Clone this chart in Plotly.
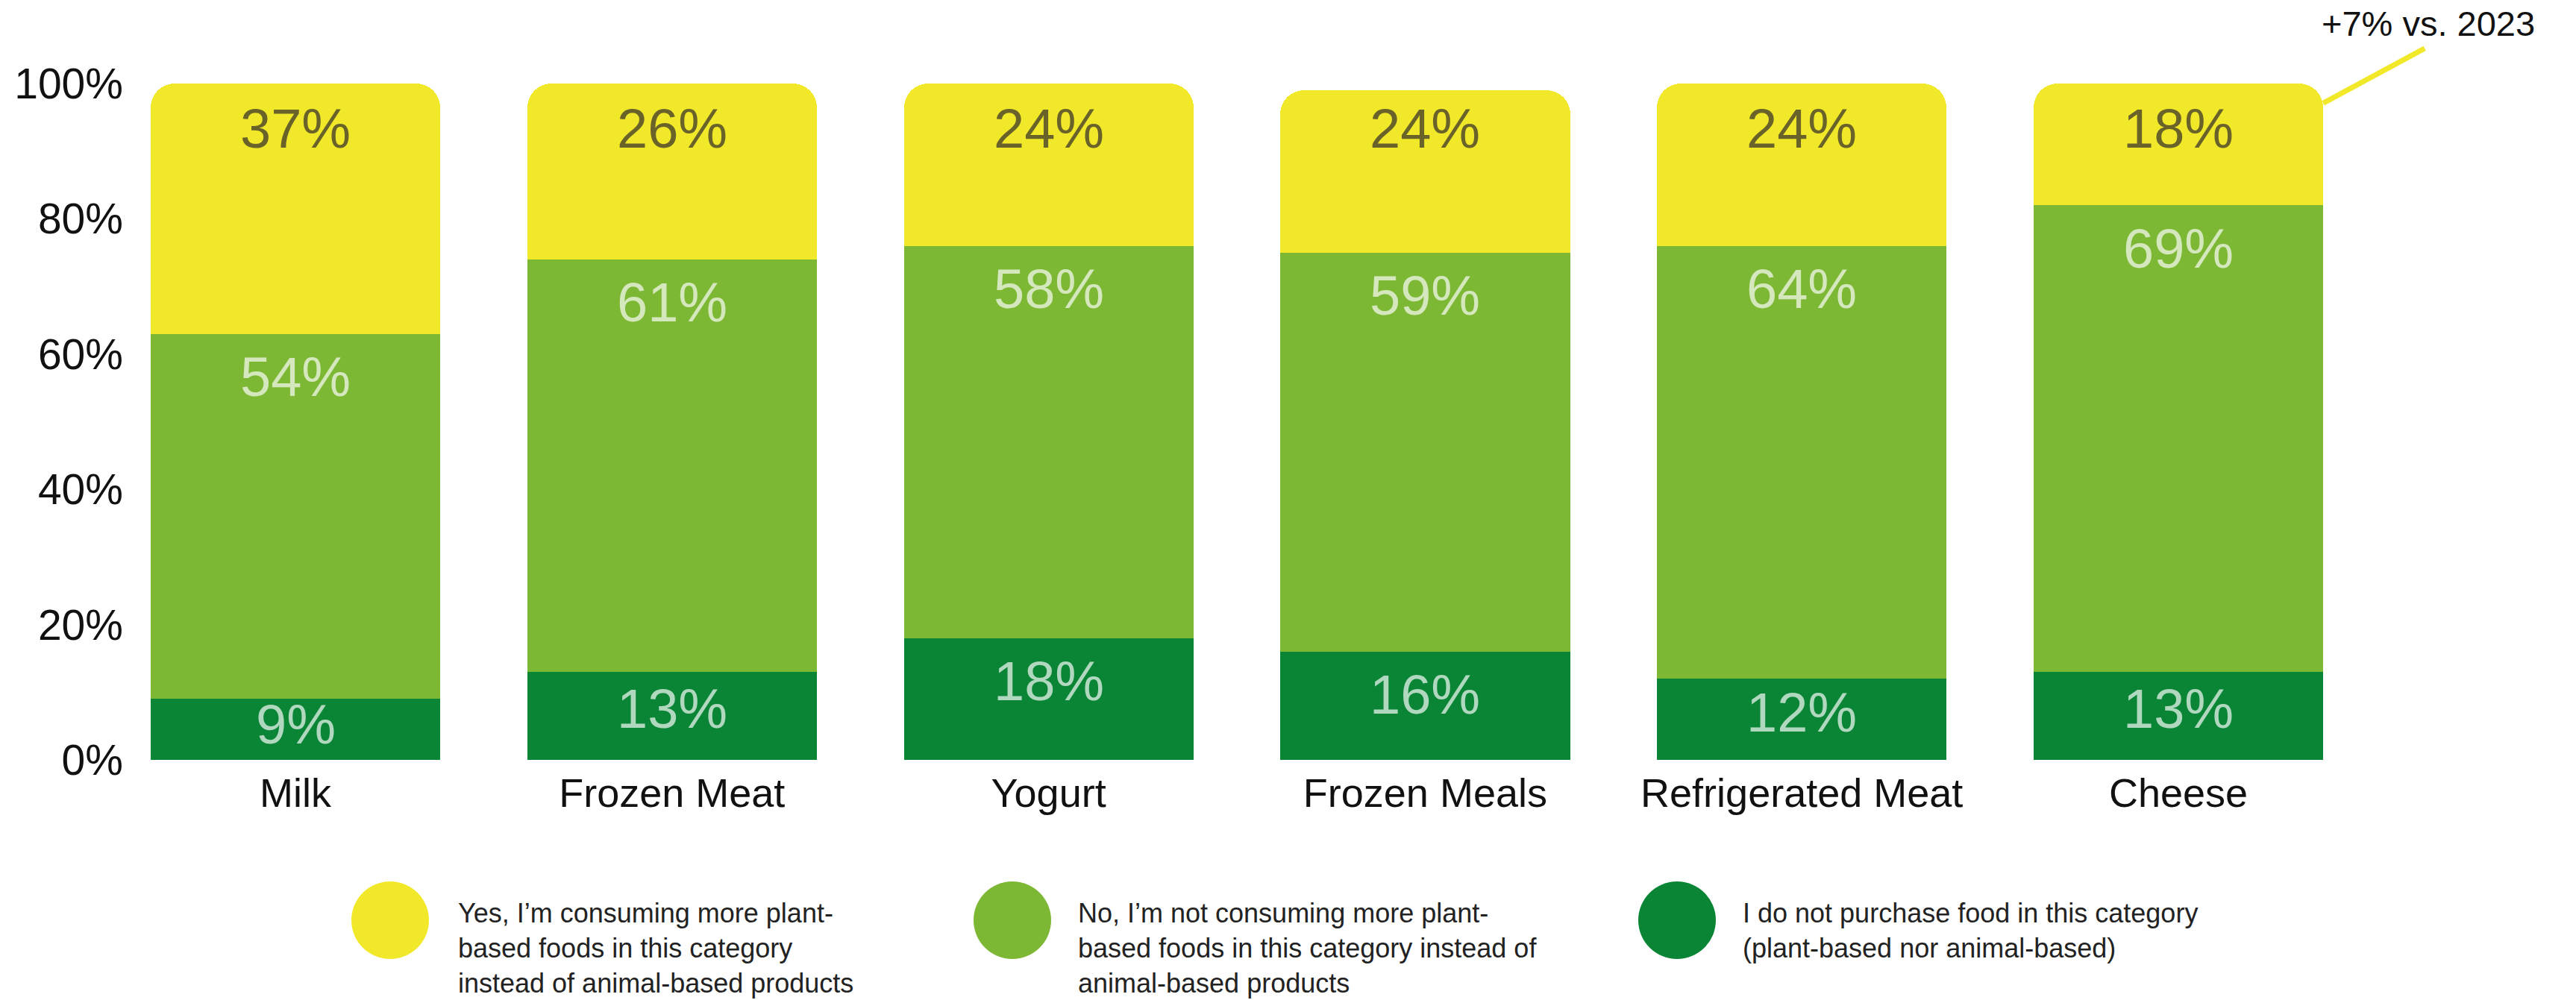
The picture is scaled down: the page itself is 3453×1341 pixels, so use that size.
import plotly.graph_objects as go

categories = ["Milk", "Frozen Meat", "Yogurt", "Frozen Meals", "Refrigerated Meat", "Cheese"]
no_purchase = [9, 13, 18, 16, 12, 13]
not_more_plant = [54, 61, 58, 59, 64, 69]
more_plant = [37, 26, 24, 24, 24, 18]
y_ticks = [0, 20, 40, 60, 80, 100]
y_tick_labels = ["0%", "20%", "40%", "60%", "80%", "100%"]
legend_labels = [
    "Yes, I’m consuming more plant-<br>based foods in this category<br>instead of animal-based products",
    "No, I’m not consuming more plant-<br>based foods in this category instead of<br>animal-based products",
    "I do not purchase food in this category<br>(plant-based nor animal-based)",
]
callout_text = "+7% vs. 2023"

C_YELLOW = "#F1E82A"
C_LIGHT = "#7DB834"
C_DARK = "#0A8536"
FONT = "Liberation Sans"

W, H = 3453, 1341
ML, MR, MT, MB = 180, 0, 0, 322
plot_w = W - ML - MR
plot_h = H - MT - MB
cat_px = 504.8
x0 = -(396 - ML) / cat_px
x1 = x0 + plot_w / cat_px
px_per_pct = 9.07
y_top = plot_h / px_per_pct
bar_w = 0.769

fig = go.Figure()
series = [(no_purchase, C_DARK), (not_more_plant, C_LIGHT), (more_plant, C_YELLOW)]
for vals, col in series:
    fig.add_trace(go.Bar(x=categories, y=vals, marker=dict(color=col, line=dict(width=0)),
                         width=bar_w, showlegend=False, hoverinfo="skip"))

# value labels near the top of each segment
label_colors = ["rgba(255,255,255,0.68)", "rgba(255,255,255,0.68)", "#6A6329"]
for i, cat in enumerate(categories):
    base = 0
    for (vals, col), lc in zip(series, label_colors):
        v = vals[i]
        top = base + v
        seg_px = v * px_per_pct
        off = min(58, 0.42 * seg_px)
        if top >= 99:
            off = 60 - (100 - top) * px_per_pct
        fig.add_annotation(x=i, y=top, xref="x", yref="y", text=f"{v}%", showarrow=False,
                           yanchor="middle", yshift=-off,
                           font=dict(family=FONT, size=74, color=lc))
        base = top

# callout
cheese_i = categories.index("Cheese")
fig.add_shape(type="line", xref="x", yref="y",
              x0=cheese_i + bar_w / 2, y0=97.1, x1=cheese_i + 0.654, y1=105.2,
              line=dict(color=C_YELLOW, width=7))
fig.add_annotation(x=x0 + (3400 - ML) / cat_px, y=(plot_h - 31) / px_per_pct, xref="x", yref="y",
                   text=callout_text, showarrow=False, xanchor="right", yanchor="middle",
                   font=dict(family=FONT, size=47, color="#111111"))

# custom legend
legend_circle_px = [523, 1357, 2248]
legend_text_px = [612, 1443, 2334]
for cx, tx, col, lab in zip(legend_circle_px, legend_text_px, [C_YELLOW, C_LIGHT, C_DARK], legend_labels):
    fig.add_shape(type="circle", xref="paper", yref="paper", xsizemode="pixel", ysizemode="pixel",
                  xanchor=(cx - ML) / plot_w, yanchor=(plot_h - 1234) / plot_h,
                  x0=-52, x1=52, y0=-52, y1=52, fillcolor=col, line=dict(width=0))
    fig.add_annotation(x=(tx - ML) / plot_w, y=(plot_h - 1202) / plot_h, xref="paper", yref="paper",
                       text=lab, showarrow=False, xanchor="left", yanchor="top", align="left",
                       font=dict(family=FONT, size=36, color="#222222"))

fig.update_layout(
    barmode="stack",
    barcornerradius=32,
    bargap=0,
    width=W, height=H,
    margin=dict(l=ML, r=MR, t=MT, b=MB),
    plot_bgcolor="white", paper_bgcolor="white",
    font=dict(family=FONT, color="#111111"),
    xaxis=dict(range=[x0, x1], showgrid=False, zeroline=False, showline=False, ticks="",
               tickfont=dict(family=FONT, size=54, color="#111111"), ticklabelstandoff=8),
    yaxis=dict(range=[0, y_top], tickvals=y_ticks, ticktext=y_tick_labels, showgrid=False,
               zeroline=False, showline=False, ticks="",
               tickfont=dict(family=FONT, size=57, color="#111111"), ticklabelstandoff=14),
)

fig.write_html("out.html")
